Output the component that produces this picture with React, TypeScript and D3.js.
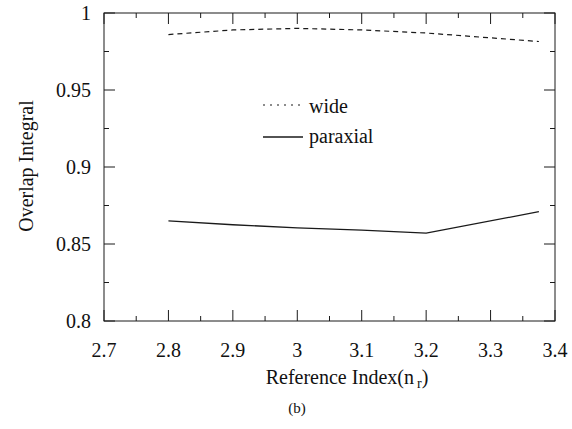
import React from 'react';
import * as d3 from 'd3';

const refIndex = [2.8, 2.9, 3.0, 3.1, 3.2, 3.375];
const wide = [0.986, 0.989, 0.990, 0.989, 0.987, 0.9815];
const paraxial = [0.865, 0.8625, 0.8605, 0.859, 0.857, 0.871];
const xTicks = ['2.7', '2.8', '2.9', '3', '3.1', '3.2', '3.3', '3.4'];
const yTicks = ['0.8', '0.85', '0.9', '0.95', '1'];
const legend = ['wide', 'paraxial'];

const serif = 'Times New Roman, Times, Liberation Serif, DejaVu Serif, serif';

export default function App() {
  const width = 572, height = 429;
  const m = { left: 104, right: 555, top: 13, bottom: 321 };

  const x = d3.scaleLinear().domain([2.7, 3.4]).range([m.left, m.right]);
  const y = d3.scaleLinear().domain([0.8, 1]).range([m.bottom, m.top]);

  const line = d3.line<number>()
    .x((d, i) => x(refIndex[i]))
    .y(d => y(d));

  const xMinor = d3.range(0, 15).map(i => 2.7 + i * 0.05);
  const yMinor = d3.range(0, 9).map(i => 0.8 + i * 0.025);
  const stroke = '#1a1a1a';

  return (
    <svg width={width} height={height}
      style={{ position: 'absolute', left: 0, top: 0, background: '#fff' }}>
      <rect x={m.left} y={m.top} width={m.right - m.left} height={m.bottom - m.top}
        fill="none" stroke={stroke} strokeWidth={1} />

      {xMinor.map((v, i) => {
        const len = i % 2 === 0 ? 11 : 5;
        return (
          <g key={'xt' + i} stroke={stroke} strokeWidth={1}>
            <line x1={x(v)} x2={x(v)} y1={m.bottom} y2={m.bottom - len} />
            <line x1={x(v)} x2={x(v)} y1={m.top} y2={m.top + len} />
          </g>
        );
      })}
      {yMinor.map((v, i) => {
        const len = i % 2 === 0 ? 11 : 5;
        return (
          <g key={'yt' + i} stroke={stroke} strokeWidth={1}>
            <line x1={m.left} x2={m.left + len} y1={y(v)} y2={y(v)} />
            <line x1={m.right} x2={m.right - len} y1={y(v)} y2={y(v)} />
          </g>
        );
      })}

      <g style={{ fontFamily: serif }} fill="#111">
        {xTicks.map(t => (
          <text key={'xl' + t} x={x(+t)} y={357} fontSize={20} textAnchor="middle">{t}</text>
        ))}
        {yTicks.map(t => (
          <text key={'yl' + t} x={91} y={y(+t)} dy="0.35em" fontSize={20} textAnchor="end">{t}</text>
        ))}
      </g>

      <path d={line(wide) || ''} fill="none" stroke={stroke} strokeWidth={1.2} strokeDasharray="5,4" />
      <path d={line(paraxial) || ''} fill="none" stroke={stroke} strokeWidth={1.3} />

      <g style={{ fontFamily: serif }} fill="#111">
        <line x1={263} x2={303} y1={105} y2={105} stroke={stroke} strokeWidth={1.2} strokeDasharray="2,5" />
        <text x={309} y={113} fontSize={20}>{legend[0]}</text>
        <line x1={263} x2={303} y1={137} y2={137} stroke={stroke} strokeWidth={1.3} />
        <text x={309} y={143} fontSize={20}>{legend[1]}</text>

        <text x={347} y={384} fontSize={20} textAnchor="middle">
          Reference Index(n<tspan dx={3} dy={4} fontSize={14}>r</tspan><tspan dy={-4}>)</tspan>
        </text>
        <text transform={`translate(33,166) rotate(-90)`} fontSize={20} textAnchor="middle">Overlap Integral</text>
        <text x={297} y={413} fontSize={15} textAnchor="middle">(b)</text>
      </g>
    </svg>
  );
}
